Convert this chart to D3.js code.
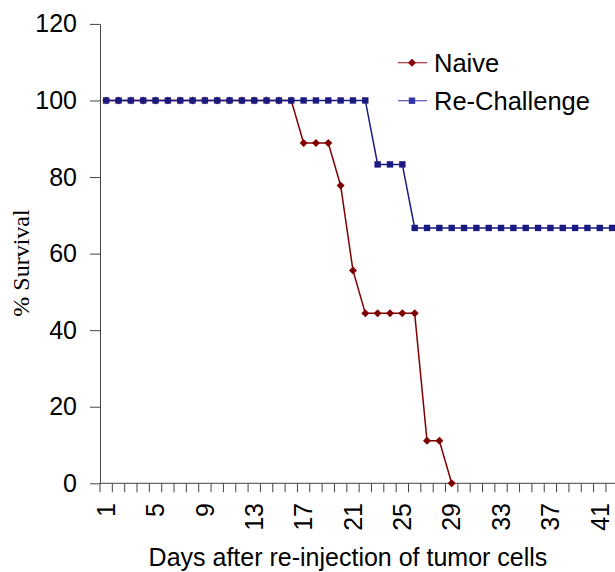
<!DOCTYPE html>
<html>
<head>
<meta charset="utf-8">
<script src="https://cdn.jsdelivr.net/npm/d3@7"></script>
<style>
  body { margin: 0; background: #fff; }
  svg { display: block; }
  text { font-family: "Liberation Sans", Arial, sans-serif; fill: #000; }
</style>
</head>
<body>
<div id="chart"></div>
<script>
// categories: days after re-injection
var days = [1,2,3,4,5,6,7,8,9,10,11,12,13,14,15,16,17,18,19,20,21,
            22,23,24,25,26,27,28,29,30,31,32,33,34,35,36,37,38,39,40,41,42];

// % survival, naive mice (days 1-29)
var naive = [100,100,100,100,100,100,100,100,100,100,100,100,100,100,100,100,
             88.9,88.9,88.9,77.8,55.6,44.4,44.4,44.4,44.4,44.4,11.1,11.1,0];

// % survival, re-challenged mice (days 1-42)
var reChallenge = [100,100,100,100,100,100,100,100,100,100,100,100,100,100,100,100,
                   100,100,100,100,100,100,83.3,83.3,83.3,66.7,66.7,66.7,66.7,66.7,
                   66.7,66.7,66.7,66.7,66.7,66.7,66.7,66.7,66.7,66.7,66.7,66.7];

var xTickLabels = [1,5,9,13,17,21,25,29,33,37,41];
var yTicks = [0,20,40,60,80,100,120];

var seriesNames = ["Naive", "Re-Challenge"];

var width = 615, height = 572;
var axisColor = "#444";
var red = "#800000", blue = "#1a1a80";

var svg = d3.select("#chart").append("svg")
    .attr("width", width)
    .attr("height", height);

var x = d3.scaleBand()
    .domain(days)
    .range([100, 100 + days.length * 12.34])
    .padding(0);

var y = d3.scaleLinear()
    .domain([0, 120])
    .range([483.3, 23.9]);

// y axis
var yAxis = svg.append("g")
    .attr("transform", "translate(100,0)")
    .call(d3.axisLeft(y).tickValues(yTicks).tickSize(10).tickPadding(13).tickSizeOuter(0));
yAxis.select(".domain").attr("stroke", axisColor);
yAxis.selectAll(".tick line").attr("stroke", axisColor);
yAxis.selectAll(".tick text")
    .attr("font-size", 25)
    .attr("font-family", "Liberation Sans, Arial, sans-serif")
    .attr("fill", "#000");

// x axis line + tick marks between categories
var xAxis = svg.append("g");
xAxis.append("line")
    .attr("x1", 100).attr("x2", width)
    .attr("y1", y(0)).attr("y2", y(0))
    .attr("stroke", axisColor);
xAxis.selectAll("line.tk")
    .data(days)
    .enter().append("line")
    .attr("class", "tk")
    .attr("x1", d => x(d)).attr("x2", d => x(d))
    .attr("y1", y(0)).attr("y2", y(0) + 9)
    .attr("stroke", axisColor);

xAxis.selectAll("text")
    .data(xTickLabels)
    .enter().append("text")
    .attr("transform", d => "translate(" + (x(d) + x.bandwidth() / 2) + ",503) rotate(-90)")
    .attr("dy", "0.35em")
    .attr("text-anchor", "end")
    .attr("font-size", 25)
    .text(d => d);

// axis titles
svg.append("text")
    .attr("x", 348)
    .attr("y", 566)
    .attr("text-anchor", "middle")
    .attr("font-size", 25)
    .text("Days after re-injection of tumor cells");

svg.append("text")
    .attr("transform", "translate(29,263) rotate(-90)")
    .attr("text-anchor", "middle")
    .attr("font-size", 24)
    .style("font-family", "Liberation Serif, Times New Roman, serif")
    .text("% Survival");

var line = d3.line()
    .x((d, i) => x(days[i]) + x.bandwidth() / 2)
    .y(d => y(d));

function diamond(g, cx, cy, color) {
    g.append("path")
        .attr("d", "M" + cx + "," + (cy - 4) + "L" + (cx + 4) + "," + cy +
                   "L" + cx + "," + (cy + 4) + "L" + (cx - 4) + "," + cy + "Z")
        .attr("fill", color);
}
function square(g, cx, cy, color) {
    g.append("rect")
        .attr("x", cx - 3.2).attr("y", cy - 3.2)
        .attr("width", 6.4).attr("height", 6.4)
        .attr("fill", color);
}

// naive series
var gN = svg.append("g");
gN.append("path")
    .datum(naive)
    .attr("d", line)
    .attr("fill", "none")
    .attr("stroke", red)
    .attr("stroke-width", 1.5);
naive.forEach((v, i) => diamond(gN, x(days[i]) + x.bandwidth() / 2, y(v), red));

// re-challenge series (drawn on top)
var gR = svg.append("g");
gR.append("path")
    .datum(reChallenge)
    .attr("d", line)
    .attr("fill", "none")
    .attr("stroke", blue)
    .attr("stroke-width", 1.5);
reChallenge.forEach((v, i) => square(gR, x(days[i]) + x.bandwidth() / 2, y(v), blue));

// legend
var legend = svg.append("g");
var legendY = [62.7, 100.7];
var legendColors = ["#a03040", "#5555aa"];
seriesNames.forEach((name, i) => {
    legend.append("line")
        .attr("x1", 398).attr("x2", 427)
        .attr("y1", legendY[i]).attr("y2", legendY[i])
        .attr("stroke", legendColors[i])
        .attr("stroke-width", 1.2);
    if (i === 0) diamond(legend, 412, legendY[i], red);
    else square(legend, 412, legendY[i], "#3333aa");
    legend.append("text")
        .attr("x", 434)
        .attr("y", legendY[i])
        .attr("dy", "0.35em")
        .attr("font-size", 25.5)
        .text(name);
});
</script>
</body>
</html>
